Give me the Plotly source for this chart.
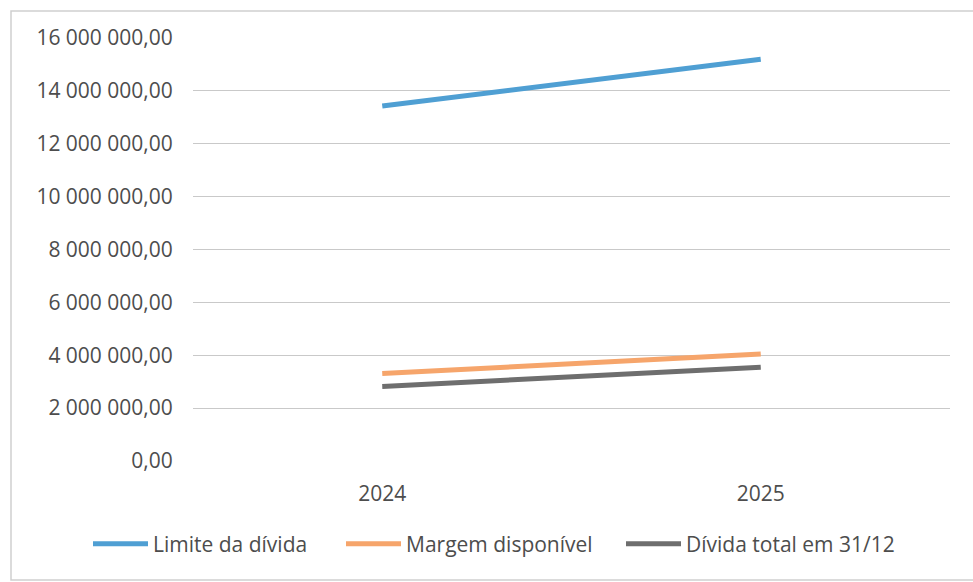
import plotly.graph_objects as go

# Categories and series (valores em reais)
anos = ["2024", "2025"]
limite_divida = [13430000, 15200000]
margem_disponivel = [3310000, 4050000]
divida_total = [2820000, 3550000]

# Y-axis ticks
y_ticks = [0, 2000000, 4000000, 6000000, 8000000, 10000000, 12000000, 14000000, 16000000]
y_tick_labels = ["0,00", "2 000 000,00", "4 000 000,00", "6 000 000,00", "8 000 000,00",
                 "10 000 000,00", "12 000 000,00", "14 000 000,00", "16 000 000,00"]

W, H = 973, 582
L, R, T, B = 193, 23, 38, 121
plot_w = W - L - R
plot_h = H - T - B

FONT = "Open Sans"
TXT = "#4d4d4d"

series = [
    ("Limite da dívida", limite_divida, "#4f9fd3", "legend"),
    ("Margem disponível", margem_disponivel, "#f6a56b", "legend2"),
    ("Dívida total em 31/12", divida_total, "#6e6e6e", "legend3"),
]

fig = go.Figure()
for name, vals, color, leg in series:
    fig.add_trace(go.Scatter(
        x=anos, y=vals, name=name, mode="lines",
        line=dict(color=color, width=5),
        legend=leg,
    ))


def px_x(px):
    return (px - L) / plot_w


def px_y(py):
    return (H - B - py) / plot_h


leg_common = dict(
    orientation="h", yanchor="middle", xanchor="left",
    font=dict(family=FONT, size=21, color=TXT),
    itemwidth=55, bgcolor="rgba(0,0,0,0)", borderwidth=0,
)

fig.update_layout(
    width=W, height=H,
    margin=dict(l=L, r=R, t=T, b=B),
    paper_bgcolor="white", plot_bgcolor="white",
    font=dict(family=FONT, size=21, color=TXT),
    xaxis=dict(
        type="category", range=[-0.5, 1.5],
        showgrid=False, zeroline=False, showline=False,
        ticks="outside", ticklen=14, tickcolor="rgba(0,0,0,0)",
        tickfont=dict(family=FONT, size=21, color=TXT),
    ),
    yaxis=dict(
        range=[0, 16000000],
        tickvals=y_ticks, ticktext=y_tick_labels,
        showgrid=True, gridcolor="#c9c9c9", gridwidth=1,
        zeroline=False, showline=False,
        ticks="outside", ticklen=15, tickcolor="rgba(0,0,0,0)",
        tickfont=dict(family=FONT, size=21, color=TXT),
    ),
    legend=dict(x=px_x(88), y=px_y(544), **leg_common),
    legend2=dict(x=px_x(341), y=px_y(544), **leg_common),
    legend3=dict(x=px_x(621), y=px_y(544), **leg_common),
    showlegend=True,
    shapes=[dict(
        type="rect", xref="paper", yref="paper",
        x0=px_x(11), x1=px_x(1000), y0=px_y(580), y1=px_y(11),
        line=dict(color="#cfcfcf", width=1.5), fillcolor="rgba(0,0,0,0)",
        layer="below",
    )],
)

fig.write_html("out.html")
